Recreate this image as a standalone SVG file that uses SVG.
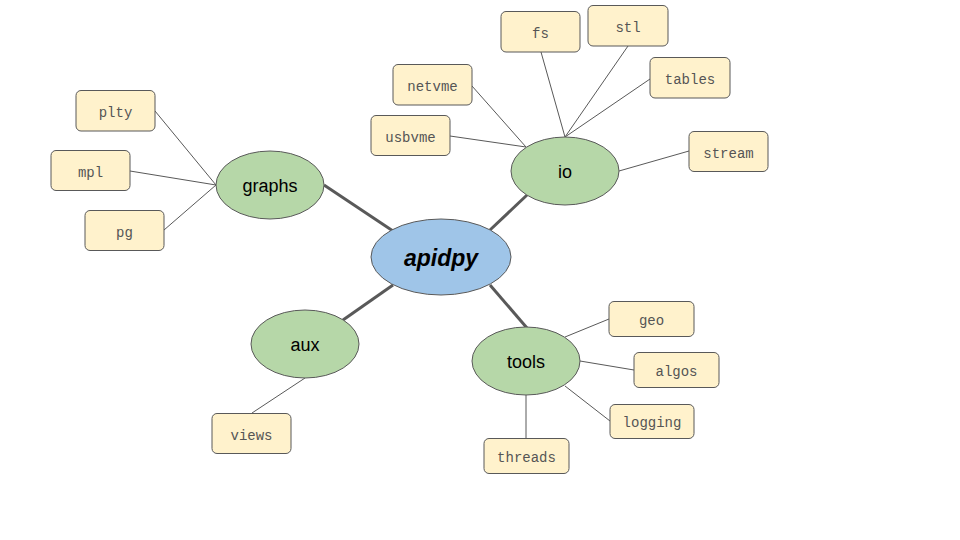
<svg xmlns="http://www.w3.org/2000/svg" width="960" height="540" viewBox="0 0 960 540">
<style>
.main{fill:#9fc5e8;stroke:#595959;stroke-width:1}
.sub{fill:#b6d7a8;stroke:#595959;stroke-width:1}
.leaf{fill:#fff2cc;stroke:#595959;stroke-width:1}
.thick{stroke:#595959;stroke-width:3;fill:none}
.thin{stroke:#595959;stroke-width:1;fill:none}
.lt{font-family:"Liberation Mono","Courier New",monospace;font-size:14px;fill:#555555;text-anchor:middle;dominant-baseline:central}
.st{font-family:"Liberation Sans",Arial,sans-serif;font-size:18px;fill:#000;text-anchor:middle;dominant-baseline:central}
.mt{font-family:"Liberation Sans",Arial,sans-serif;font-size:23px;font-weight:bold;font-style:italic;fill:#000;text-anchor:middle;dominant-baseline:central}
</style>
<rect width="960" height="540" fill="#fff"/>
<g id="connectors">
<line class="thick" x1="393" y1="231" x2="324" y2="185"/>
<line class="thick" x1="490" y1="230" x2="527" y2="195"/>
<line class="thick" x1="393" y1="285" x2="343" y2="320"/>
<line class="thick" x1="490" y1="285" x2="527" y2="328"/>
<line class="thin" x1="155" y1="111" x2="216" y2="185"/>
<line class="thin" x1="130" y1="171" x2="216" y2="185"/>
<line class="thin" x1="164" y1="230" x2="216" y2="185"/>
<line class="thin" x1="472" y1="86" x2="526" y2="147"/>
<line class="thin" x1="450" y1="136" x2="526" y2="147"/>
<line class="thin" x1="541" y1="52" x2="565" y2="137"/>
<line class="thin" x1="628" y1="46" x2="565" y2="137"/>
<line class="thin" x1="650" y1="79" x2="565" y2="137"/>
<line class="thin" x1="689" y1="151" x2="619" y2="171"/>
<line class="thin" x1="252" y1="413" x2="305" y2="378"/>
<line class="thin" x1="609" y1="319" x2="565" y2="337"/>
<line class="thin" x1="634" y1="370" x2="580" y2="361"/>
<line class="thin" x1="610" y1="421" x2="565" y2="386"/>
<line class="thin" x1="526" y1="438" x2="526" y2="395"/>
</g>
<g id="apidpy"><ellipse class="main" cx="441" cy="257" rx="70" ry="38"/><text class="mt" x="441" y="258">apidpy</text></g>
<g id="graphs"><ellipse class="sub" cx="270" cy="185" rx="54" ry="34"/><text class="st" x="270" y="186">graphs</text></g>
<g id="io"><ellipse class="sub" cx="565" cy="171" rx="54" ry="34"/><text class="st" x="565" y="172">io</text></g>
<g id="aux"><ellipse class="sub" cx="305" cy="344" rx="54" ry="34"/><text class="st" x="305" y="345">aux</text></g>
<g id="tools"><ellipse class="sub" cx="526" cy="361" rx="54" ry="34"/><text class="st" x="526" y="362">tools</text></g>
<g id="fs"><rect class="leaf" x="501" y="11.5" width="79" height="40.5" rx="5"/><text class="lt" x="540.5" y="33.5">fs</text></g>
<g id="stl"><rect class="leaf" x="588" y="5.5" width="80" height="40.5" rx="5"/><text class="lt" x="628" y="27.5">stl</text></g>
<g id="netvme"><rect class="leaf" x="393" y="64.5" width="79" height="40.5" rx="5"/><text class="lt" x="432.5" y="86.5">netvme</text></g>
<g id="tables"><rect class="leaf" x="650" y="57.5" width="80" height="40.5" rx="5"/><text class="lt" x="690" y="79.5">tables</text></g>
<g id="usbvme"><rect class="leaf" x="371" y="115.5" width="79" height="40" rx="5"/><text class="lt" x="410.5" y="137.5">usbvme</text></g>
<g id="stream"><rect class="leaf" x="689" y="131.5" width="79" height="40" rx="5"/><text class="lt" x="728.5" y="153.5">stream</text></g>
<g id="plty"><rect class="leaf" x="76" y="90.5" width="79" height="40.5" rx="5"/><text class="lt" x="115.5" y="112.5">plty</text></g>
<g id="mpl"><rect class="leaf" x="51" y="150.5" width="79" height="40" rx="5"/><text class="lt" x="90.5" y="172.5">mpl</text></g>
<g id="pg"><rect class="leaf" x="85" y="210.5" width="79" height="40" rx="5"/><text class="lt" x="124.5" y="232.5">pg</text></g>
<g id="views"><rect class="leaf" x="212" y="413.5" width="79" height="40" rx="5"/><text class="lt" x="251.5" y="435.5">views</text></g>
<g id="geo"><rect class="leaf" x="609" y="301.5" width="85" height="35" rx="5"/><text class="lt" x="651.5" y="320.5">geo</text></g>
<g id="algos"><rect class="leaf" x="634" y="352.5" width="85" height="35" rx="5"/><text class="lt" x="676.5" y="371.5">algos</text></g>
<g id="logging"><rect class="leaf" x="610" y="404.5" width="84" height="34" rx="5"/><text class="lt" x="652" y="422.5">logging</text></g>
<g id="threads"><rect class="leaf" x="484" y="438.5" width="85" height="35" rx="5"/><text class="lt" x="526.5" y="457.5">threads</text></g>
</svg>
